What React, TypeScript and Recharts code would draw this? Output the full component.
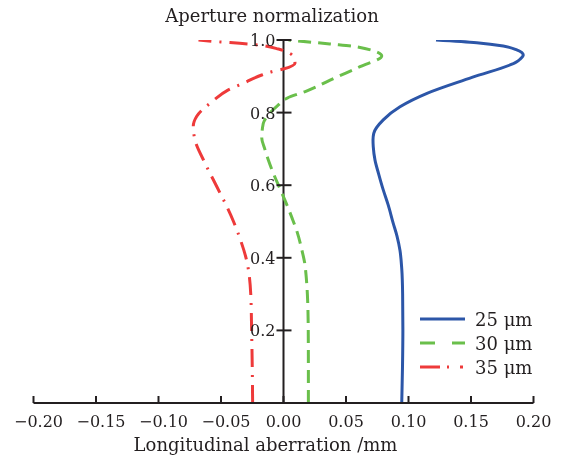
import React from "react";
import { LineChart, Line, XAxis, YAxis, ReferenceLine, ReferenceDot } from "recharts";

// Aperture normalization (y) and longitudinal aberration in mm (x) for each series
const aperture25 = [0, 0.1, 0.2, 0.3, 0.37, 0.42, 0.46, 0.495, 0.545, 0.587, 0.63, 0.669, 0.706, 0.725, 0.743, 0.78, 0.816, 0.853, 0.897, 0.94, 0.947, 0.9587, 0.9725, 0.9835, 0.9926, 1.0];
const aberration25 = [0.0946, 0.0952, 0.0955, 0.0953, 0.0946, 0.0932, 0.0908, 0.0878, 0.0838, 0.0798, 0.0762, 0.0732, 0.0718, 0.0716, 0.0722, 0.0798, 0.0932, 0.1148, 0.1508, 0.1866, 0.1892, 0.1918, 0.1866, 0.1758, 0.1546, 0.122];

const aperture30 = [0, 0.1, 0.2, 0.3, 0.35, 0.385, 0.42, 0.47, 0.51, 0.55, 0.59, 0.63, 0.67, 0.7, 0.73, 0.77, 0.8, 0.82, 0.84, 0.858, 0.898, 0.9265, 0.956, 0.981, 0.989, 1.0];
const aberration30 = [0.0199, 0.0199, 0.0198, 0.0191, 0.0181, 0.017, 0.0148, 0.011, 0.0068, 0.0022, -0.0028, -0.0078, -0.0122, -0.015, -0.0174, -0.0162, -0.0105, -0.0045, 0.003, 0.0174, 0.0426, 0.0612, 0.0786, 0.0588, 0.037, 0.004];

const aperture35 = [0, 0.1, 0.2, 0.3, 0.4, 0.45, 0.5, 0.54, 0.595, 0.661, 0.7245, 0.762, 0.79, 0.8333, 0.862, 0.883, 0.9036, 0.9127, 0.92, 0.9358, 0.95, 0.963, 0.975, 0.9855, 0.991, 0.9945, 1.0];
const aberration35 = [-0.0247, -0.025, -0.0255, -0.0262, -0.03, -0.0345, -0.04, -0.0452, -0.0532, -0.0628, -0.0708, -0.0722, -0.0694, -0.056, -0.0445, -0.0308, -0.0174, -0.0094, -0.0002, 0.0092, 0.0085, 0.0052, -0.004, -0.0188, -0.035, -0.05, -0.068];

const xTicks = [-0.2, -0.15, -0.1, -0.05, 0, 0.05, 0.1, 0.15, 0.2];
const xTickLabels = ["\u22120.20", "\u22120.15", "\u22120.10", "\u22120.05", "0.00", "0.05", "0.10", "0.15", "0.20"];
const yTicks = [0.2, 0.4, 0.6, 0.8, 1.0];
const yTickLabels = ["0.2", "0.4", "0.6", "0.8", "1.0"];

const seriesNames = ["25 \u03bcm", "30 \u03bcm", "35 \u03bcm"];
const titleText = "Aperture normalization";
const xLabelText = "Longitudinal aberration /mm";

const BLUE = "#2c56a8";
const GREEN = "#6abf4b";
const RED = "#ee3a3a";
const INK = "#231f20";
const FONT = "DejaVu Serif";

const build = (ys: number[], xs: number[]) => ys.map((y, i) => ({ y, x: xs[i] }));
const data25 = build(aperture25, aberration25);
const data30 = build(aperture30, aberration30);
const data35 = build(aperture35, aberration35);

const XTick = (props: any) => {
  const { x, y, payload } = props;
  const idx = xTicks.indexOf(payload.value);
  const label = idx >= 0 ? xTickLabels[idx] : String(payload.value);
  const neg = payload.value < 0;
  return (
    <g>
      <line x1={x} x2={x} y1={y} y2={y - 7} stroke={INK} strokeWidth={2} />
      <text x={x + (neg ? 5 : 0)} y={y + 24} textAnchor="middle" fontFamily={FONT} fontSize={16} fill={INK}>
        {label}
      </text>
    </g>
  );
};

const makeYTick = (label: string) => (p: any) => (
  <g>
    <line x1={p.cx - 7} x2={p.cx + 8} y1={p.cy} y2={p.cy} stroke={INK} strokeWidth={2} />
    <text x={p.cx - 8} y={p.cy + 6} textAnchor="end" fontFamily={FONT} fontSize={16} fill={INK}>
      {label}
    </text>
  </g>
);

const legendRows = [
  { name: seriesNames[0], color: BLUE, dash: undefined as string | undefined },
  { name: seriesNames[1], color: GREEN, dash: "15 17 13" },
  { name: seriesNames[2], color: RED, dash: "20 7 2 11 3 10" },
];

export default function App() {
  return (
    <div style={{ width: 548, height: 441 }}>
      <div style={{ position: "fixed", left: 0, top: 0, width: 564, height: 457 }}>
        <LineChart
          width={564}
          height={457}
          layout="vertical"
          margin={{ top: 40, right: 30.5, bottom: 0, left: 33.5 }}
        >
          <XAxis
            type="number"
            dataKey="x"
            domain={[-0.2, 0.2]}
            ticks={xTicks}
            interval={0}
            allowDataOverflow
            height={54}
            axisLine={{ stroke: INK, strokeWidth: 2 }}
            tickLine={false}
            tickSize={0}
            tickMargin={0}
            tick={<XTick />}
          />
          <YAxis type="number" dataKey="y" domain={[0, 1]} hide allowDataOverflow reversed />
          <ReferenceLine x={0} stroke={INK} strokeWidth={2} />
          {yTicks.map((t, i) => (
            <ReferenceDot key={t} x={0} y={t} r={1} shape={makeYTick(yTickLabels[i])} />
          ))}
          <Line data={data25} dataKey="x" type="monotoneY" stroke={BLUE} strokeWidth={3} dot={false} isAnimationActive={false} />
          <Line data={data30} dataKey="x" type="monotoneY" stroke={GREEN} strokeWidth={3} strokeDasharray="13 7" dot={false} isAnimationActive={false} />
          <Line data={data35} dataKey="x" type="monotoneY" stroke={RED} strokeWidth={3} strokeDasharray="18 8 2 8" dot={false} isAnimationActive={false} />
        </LineChart>
        <svg
          width={564}
          height={457}
          style={{ position: "absolute", left: 0, top: 0, overflow: "visible", pointerEvents: "none" }}
        >
          <text x={272} y={21.5} textAnchor="middle" fontFamily={FONT} fontSize={18} fill={INK}>
            {titleText}
          </text>
          <text x={265.5} y={451} textAnchor="middle" fontFamily={FONT} fontSize={18} fill={INK}>
            {xLabelText}
          </text>
          {legendRows.map((r, i) => (
            <g key={r.name}>
              <line x1={420} x2={465} y1={319 + i * 24} y2={319 + i * 24} stroke={r.color} strokeWidth={3} strokeDasharray={r.dash} />
              <text x={475} y={325.5 + i * 24} fontFamily={FONT} fontSize={18} fill={INK}>
                {r.name}
              </text>
            </g>
          ))}
        </svg>
      </div>
    </div>
  );
}
